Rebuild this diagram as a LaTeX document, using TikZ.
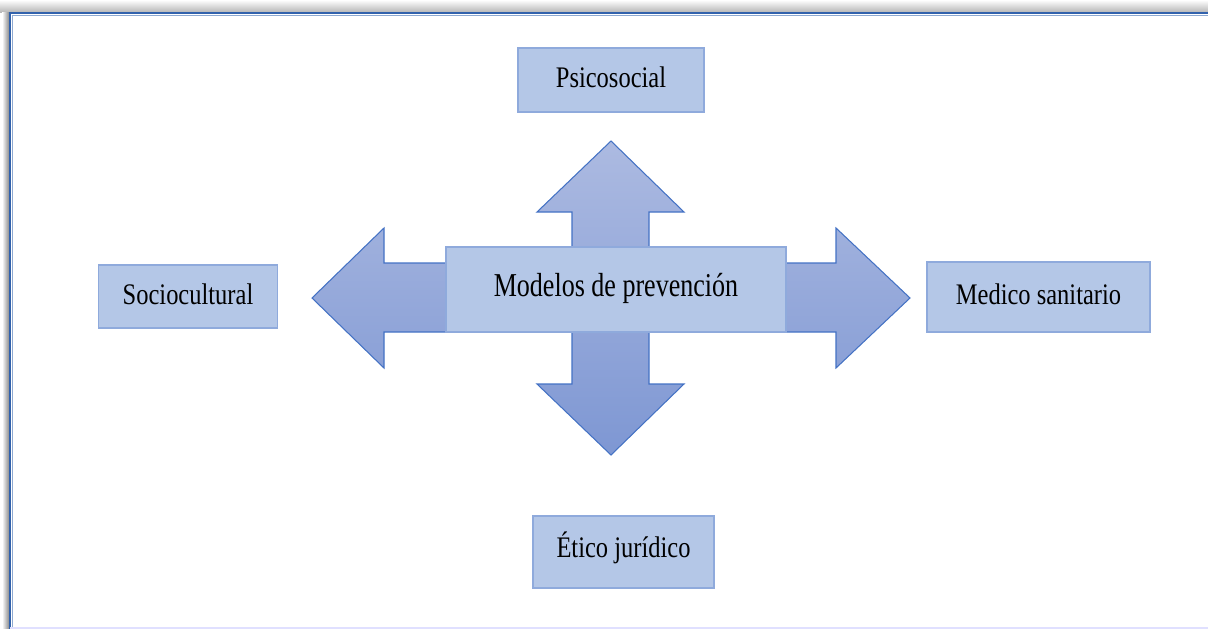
\documentclass[tikz,border=0pt]{standalone}
\usepackage{fontspec}
\setmainfont{Liberation Serif}
\usepackage{tikz}

\definecolor{boxfill}{RGB}{180,199,231}
\definecolor{boxline}{RGB}{143,170,220}
\definecolor{arrowtop}{RGB}{172,186,225}
\definecolor{arrowbot}{RGB}{126,151,211}
\definecolor{arrowline}{RGB}{68,114,196}
\definecolor{framecol}{RGB}{50,98,172}

\newcommand{\narrow}[1]{\scalebox{0.82}[1]{#1}}

\begin{document}
\begin{tikzpicture}[x=0.02cm, y=-0.02cm,
    box/.style={rectangle, fill=boxfill, draw=boxline, line width=0.8pt, inner sep=0pt, text height=12pt, text depth=3pt, font=\fontsize{17}{20}\selectfont}]
    \useasboundingbox (0,0) rectangle (1208,629);
    % marco
    \shade[top color=white, bottom color=black!28] (0,0) rectangle (1208,12);
    \shade[left color=white, right color=black!45] (2,12) rectangle (9,629);
    \draw[framecol!55, line width=1pt] (12.5,640) |- (1220,15.5);
    \draw[framecol, line width=1.4pt] (10,640) |- (1220,13);
    \draw[blue!12, line width=0.8pt] (10,628) -- (1208,628);
    % flecha de cuatro puntas
    \shadedraw[top color=arrowtop, bottom color=arrowbot, draw=arrowline, line width=0.6pt]
        (611,141) -- (684,212) -- (649,212) -- (649,263) -- (836,263) -- (836,228)
        -- (910,298) -- (836,368) -- (836,332) -- (649,332) -- (649,384) -- (684,384)
        -- (611,455) -- (537,384) -- (572,384) -- (572,332) -- (384,332) -- (384,368)
        -- (312,298) -- (384,228) -- (384,263) -- (572,263) -- (572,212) -- (537,212) -- cycle;
    \node[box, minimum width=6.80cm, minimum height=1.70cm, text height=14pt, text depth=6pt, font=\fontsize{19}{22}\selectfont] (0) at (616,289.5) {\scalebox{0.78}[1]{Modelos de prevención}};
    \node[box, minimum width=3.72cm, minimum height=1.28cm] (1) at (611,80) {\narrow{Psicosocial}};
    \node[box, minimum width=3.58cm, minimum height=1.26cm] (2) at (188,296.5) {\narrow{Sociocultural}};
    \node[box, minimum width=4.46cm, minimum height=1.40cm] (3) at (1038.5,297) {\narrow{Medico sanitario}};
    \node[box, minimum width=3.62cm, minimum height=1.44cm, text depth=6pt] (4) at (623.5,552) {\narrow{Ético jurídico}};
\end{tikzpicture}
\end{document}
